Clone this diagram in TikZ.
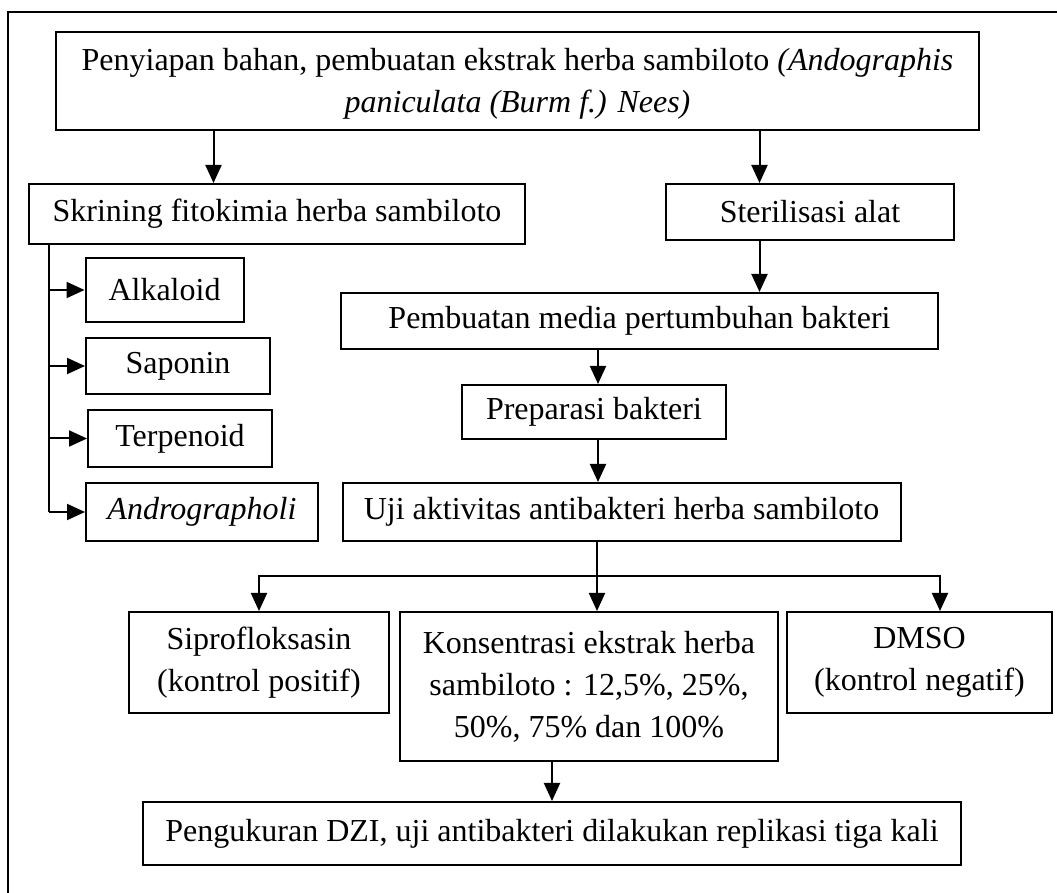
\documentclass[tikz,border=0pt]{standalone}
\usepackage{fontspec}
\setmainfont{Liberation Serif}
\usetikzlibrary{arrows.meta}

\begin{document}
\begin{tikzpicture}[
    x=0.5pt, y=-0.5pt,
    line width=1pt,
    box/.style={draw, inner sep=0pt, align=center, font=\fontsize{16}{21}\selectfont}, % Style for every step box
    arr/.style={-{Triangle[length=9pt, width=8pt]}} % Solid arrow heads
]
    \useasboundingbox (0,0) rectangle (1057,893);

    % --- OUTER FRAME ---
    \draw (8,900) |- (1065,12);

    % --- TOP BOX ---
    \node[box, minimum width=461.5pt, minimum height=49pt] (prep) at (517.5,81)
        {\rule{0pt}{14pt}Penyiapan bahan, pembuatan ekstrak herba sambiloto \textit{(Andographis}\\ \textit{paniculata (Burm f.) Nees)}};

    % --- LEFT BRANCH (Screening) ---
    \node[box, minimum width=248pt, minimum height=30pt] (skrining) at (277,214) {Skrining fitokimia herba sambiloto};
    \node[box, minimum width=79pt, minimum height=32pt] (alkaloid) at (164.5,290) {Alkaloid};
    \node[box, minimum width=92pt, minimum height=28pt] (saponin) at (178,366) {Saponin};
    \node[box, minimum width=92pt, minimum height=28.5pt] (terpenoid) at (180,438.5) {Terpenoid};
    \node[box, minimum width=116pt, minimum height=29pt] (androg) at (202,512) {\textit{Andrographoli}};

    % --- RIGHT BRANCH (Test preparation) ---
    \node[box, minimum width=144pt, minimum height=28pt] (steril) at (810,212) {Sterilisasi alat};
    \node[box, minimum width=298.5pt, minimum height=28pt] (media) at (639.5,321) {Pembuatan media pertumbuhan bakteri};
    \node[box, minimum width=132pt, minimum height=27pt] (prepbak) at (594,412) {Preparasi bakteri};
    \node[box, minimum width=279pt, minimum height=29pt] (uji) at (621.5,512) {Uji aktivitas antibakteri herba sambiloto};

    % --- TREATMENTS ---
    \node[box, minimum width=130pt, minimum height=50.5pt] (sipro) at (259,662.5) {Siprofloksasin\\ (kontrol positif)};
    \node[box, minimum width=189pt, minimum height=74.5pt] (konsen) at (589,686.5)
        {Konsentrasi ekstrak herba\\ sambiloto : 12,5\%, 25\%,\\ 50\%, 75\% dan 100\%};
    \node[box, minimum width=132.5pt, minimum height=50.5pt] (dmso) at (919.5,662.5) {DMSO\\ (kontrol negatif)};
    \node[box, minimum width=409pt, minimum height=31.5pt] (ukur) at (552,833.5)
        {Pengukuran DZI, uji antibakteri dilakukan replikasi tiga kali};

    % Helper coordinates for arrow positions
    \coordinate (lx) at (213.5,0);
    \coordinate (rx) at (759.5,0);
    \coordinate (mx) at (598,0);
    \coordinate (trunk) at (49,0);
    \coordinate (split) at (597,576);
    \coordinate (rjoin) at (940,576);

    % Arrows down the main flow
    \draw[arr] (prep.south -| lx) -- (skrining.north -| lx);
    \draw[arr] (prep.south -| rx) -- (steril.north -| rx);
    \draw[arr] (steril.south -| rx) -- (media.north -| rx);
    \draw[arr] (media.south -| mx) -- (prepbak.north -| mx);
    \draw[arr] (prepbak.south -| mx) -- (uji.north -| mx);

    % Screening trunk and side arrows
    \draw (skrining.south -| trunk) -- (androg.west -| trunk);
    \foreach \n in {alkaloid, saponin, terpenoid, androg}
        \draw[arr] (\n.west -| trunk) -- (\n.west);

    % Split into the three treatments
    \draw (uji.south -| split) -- (split);
    \draw[arr] (split) -- (konsen.north -| split);
    \draw[arr] (split) -| (sipro.north);
    \draw[arr] (split) -- (rjoin) -- (dmso.north -| rjoin);
    \draw[arr] (konsen.south -| ukur.north) -- (ukur.north);

\end{tikzpicture}
\end{document}
